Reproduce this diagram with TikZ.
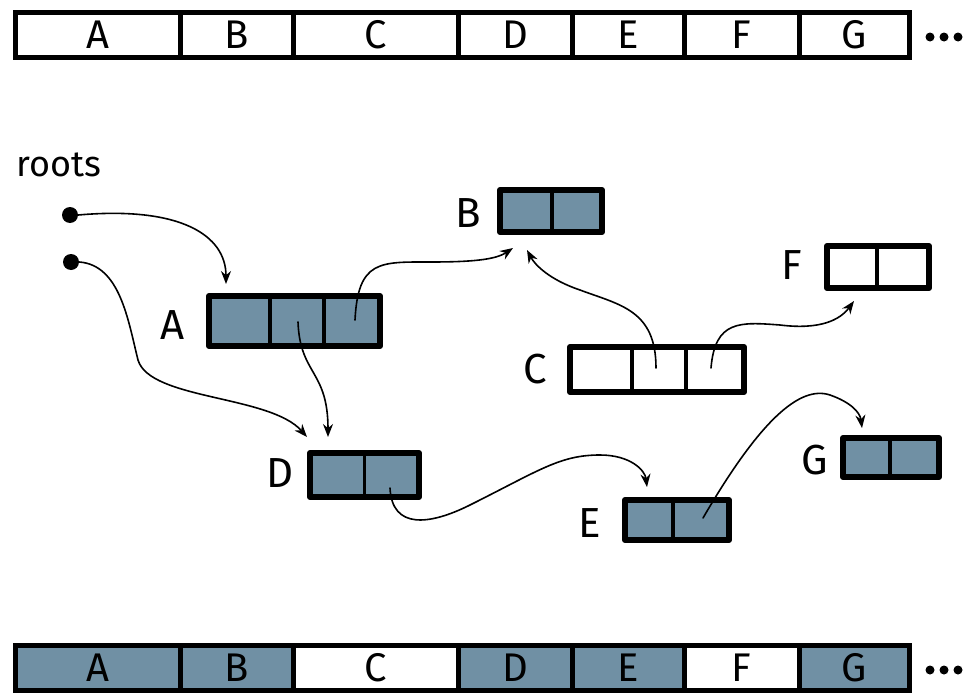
\documentclass[tikz,border=0pt]{standalone}
\usepackage{fontspec}
\setmainfont{Fira Sans}
\usetikzlibrary{arrows.meta,calc}
\definecolor{cellblue}{RGB}{112,144,164}
\begin{document}
\begin{tikzpicture}[x=1pt,y=-1pt,
  lbl/.style={font=\fontsize{42}{44}\selectfont, inner sep=0pt},
  barcell/.style={draw, line width=5pt, minimum height=45pt, inner sep=0pt, outer sep=0pt,
    font=\fontsize{40}{42}\selectfont, anchor=west},
  objbox/.style={draw, line width=6pt, line join=round, inner sep=0pt, outer sep=0pt},
  divider/.style={line width=3.5pt},
  ptr/.style={line width=1.6pt, line cap=round, -{Stealth[length=13pt,width=10pt]}},
  rootdot/.style={circle, fill, minimum size=16pt, inner sep=0pt},
  ell/.style={circle, fill, minimum size=9pt, inner sep=0pt},
]
\useasboundingbox (0,0) rectangle (970,696);

% top bar (address order)
\foreach \n/\x/\w in {A/15.5/164.5, B/180/113, C/293/165, D/458/114, E/572/112, F/684/115, G/799/110.5}
  \node[barcell, minimum width=\w pt] (t\n) at (\x,35) {\n};
\foreach \i/\x in {1/930, 2/944, 3/958}
  \node[ell] (tdot\i) at (\x,37) {};

% bottom bar (marked)
\foreach \n/\x/\w/\f in {A/15.5/164.5/cellblue, B/180/113/cellblue, C/293/165/white, D/458/114/cellblue, E/572/112/cellblue, F/684/115/white, G/799/110.5/cellblue}
  \node[barcell, fill=\f, minimum width=\w pt] (b\n) at (\x,668) {\n};
\foreach \i/\x in {1/930, 2/944, 3/958}
  \node[ell] (bdot\i) at (\x,670) {};

% roots
\node[font=\fontsize{36}{38}\selectfont, anchor=base west, inner sep=0pt] (roots) at (16,176) {roots};
\node[rootdot] (r1) at (70,215) {};
\node[rootdot] (r2) at (71,262) {};

% objects
\foreach \n/\x/\y/\w/\h/\f in {
  A/294.5/321/171/50/cellblue,
  B/551/211/102/42/cellblue,
  F/878/267/102/42/white,
  C/657/369.5/174/45/white,
  D/364.5/475/109/44/cellblue,
  E/677/520/104/40/cellblue,
  G/891/457.5/96/39/cellblue}
  \node[objbox, fill=\f, minimum width=\w pt, minimum height=\h pt] (\n) at (\x,\y) {};
\foreach \n/\t in {A/0.356, A/0.672, B/0.51, F/0.49, C/0.356, C/0.667, D/0.5, E/0.46, G/0.49}
  \draw[divider] ($(\n.north west)!\t!(\n.north east)$) -- ($(\n.south west)!\t!(\n.south east)$);

% labels
\node[lbl] (lA) at (173,325) {A};
\node[lbl] (lB) at (468,213) {B};
\node[lbl] (lF) at (792,265) {F};
\node[lbl] (lC) at (535,369) {C};
\node[lbl] (lD) at (280,473) {D};
\node[lbl] (lE) at (590,523) {E};
\node[lbl] (lG) at (815,460) {G};

% pointer sources and targets
\coordinate (sA2) at (298,322);
\coordinate (sA3) at (355,320);
\coordinate (sC2) at (656,368);
\coordinate (sC3) at (711,368);
\coordinate (sD2) at (390,488);
\coordinate (sE2) at (703,518);
\coordinate (tgA) at (226,284);
\coordinate (tgB1) at (513,248);
\coordinate (tgB2) at (527,250);
\coordinate (tgF) at (854,301);
\coordinate (tgD1) at (307,437);
\coordinate (tgD2) at (328,437);
\coordinate (tgE) at (647,487);
\coordinate (tgG) at (862,428);

% pointers
\draw[ptr] (r1.east) .. controls (180,206) and (226,235) .. (tgA);
\draw[ptr] (r2.east) .. controls (120,265) and (128,320) .. (138,360)
  .. controls (150,400) and (270,395) .. (tgD1);
\draw[ptr] (sA3) .. controls (358,260) and (380,262) .. (430,262)
  .. controls (470,262) and (495,260) .. (tgB1);
\draw[ptr] (sA2) .. controls (300,375) and (328,370) .. (tgD2);
\draw[ptr] (sC2) .. controls (656,310) and (620,305) .. (580,290)
  .. controls (550,280) and (535,265) .. (tgB2);
\draw[ptr] (sC3) .. controls (715,320) and (740,322) .. (780,325)
  .. controls (820,330) and (840,320) .. (tgF);
\draw[ptr] (sD2) .. controls (392,530) and (430,525) .. (470,505)
  .. controls (540,470) and (560,455) .. (600,455)
  .. controls (630,455) and (645,470) .. (tgE);
\draw[ptr] (sE2) .. controls (760,420) and (800,385) .. (830,395)
  .. controls (850,402) and (860,412) .. (tgG);
\end{tikzpicture}
\end{document}
